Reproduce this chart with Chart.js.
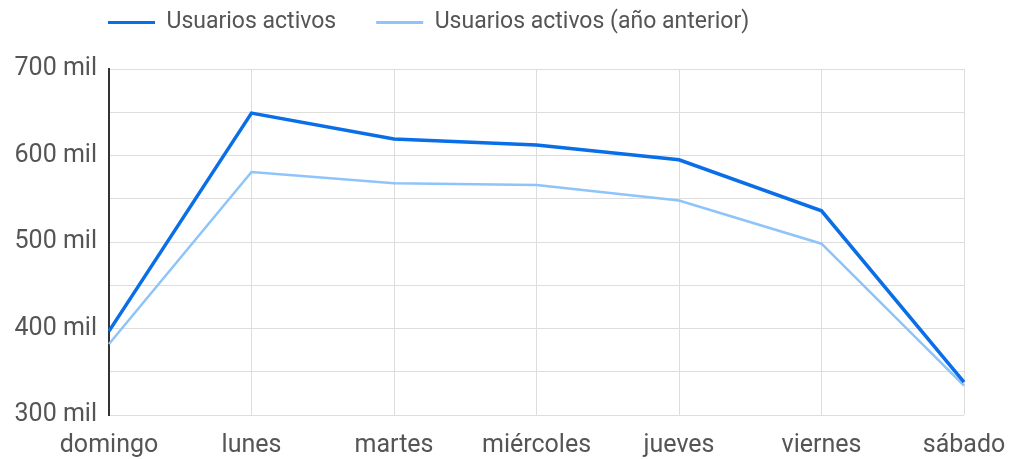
<!DOCTYPE html>
<html>
<head>
<meta charset="utf-8">
<script src="https://cdn.jsdelivr.net/npm/chart.js@4.4.1/dist/chart.umd.min.js"></script>
<style>
  html, body { margin: 0; padding: 0; background: #ffffff; }
  #wrap { width: 1010px; height: 459px; position: relative; }
</style>
</head>
<body>
<div id="wrap"><canvas id="c" width="1010" height="459"></canvas></div>
<script>
const categories = ['domingo', 'lunes', 'martes', 'miércoles', 'jueves', 'viernes', 'sábado'];
const seriesNames = ['Usuarios activos', 'Usuarios activos (año anterior)'];
const activeUsers = [397000, 649000, 619000, 612000, 595000, 536000, 338000];
const activeUsersPrevYear = [382000, 581000, 568000, 566000, 548000, 498000, 334000];
const yTickValues = [300000, 400000, 500000, 600000, 700000];

const darkBlue = '#0a6ee6';
const lightBlue = '#8ec4fa';
const textGray = '#555555';

const legendPlacer = {
  id: 'legendPlacer',
  afterInit(chart) {
    const lg = chart.legend;
    if (lg) {
      const origFit = lg.fit.bind(lg);
      lg.fit = function () { origFit(); this.height = 69; };
    }
  },
  afterUpdate(chart) {
    const lg = chart.legend;
    if (lg) {
      lg.left = 68;
      lg.top = -29;
      lg.adjustHitBoxes();
    }
  }
};

new Chart(document.getElementById('c'), {
  type: 'line',
  data: {
    labels: categories,
    datasets: [
      {
        label: seriesNames[0],
        data: activeUsers,
        borderColor: darkBlue,
        backgroundColor: darkBlue,
        borderWidth: 3.5,
        pointRadius: 0,
        tension: 0,
        fill: false
      },
      {
        label: seriesNames[1],
        data: activeUsersPrevYear,
        borderColor: lightBlue,
        backgroundColor: lightBlue,
        borderWidth: 2.5,
        pointRadius: 0,
        tension: 0,
        fill: false
      }
    ]
  },
  plugins: [legendPlacer],
  options: {
    responsive: false,
    animation: false,
    devicePixelRatio: 1,
    layout: { padding: { left: 0, right: 46, top: 0, bottom: 0 } },
    plugins: {
      tooltip: { enabled: false },
      legend: {
        display: true,
        position: 'top',
        align: 'start',
        labels: {
          boxWidth: 47,
          boxHeight: 3,
          padding: 40,
          color: textGray,
          font: { family: 'Roboto', size: 23 },
          generateLabels(chart) {
            const items = Chart.defaults.plugins.legend.labels.generateLabels(chart);
            items.forEach(function (it) { it.lineWidth = 0; });
            return items;
          }
        }
      }
    },
    scales: {
      x: {
        offset: false,
        grid: { color: '#dddddd', lineWidth: 1, drawTicks: false },
        border: { display: false },
        ticks: {
          color: textGray,
          padding: 16,
          maxRotation: 0,
          autoSkip: false,
          font: { family: 'Roboto', size: 25 }
        },
        afterFit(scale) {
          scale.height = 44;
          scale.paddingLeft = 0;
          scale.paddingRight = 0;
        }
      },
      y: {
        min: 300000,
        max: 700000,
        grid: { color: '#dddddd', lineWidth: 1, drawTicks: false },
        border: { display: true, color: '#333333', width: 2 },
        ticks: {
          stepSize: 50000,
          color: textGray,
          padding: 12,
          font: { family: 'Roboto', size: 25 },
          callback(value) {
            return yTickValues.includes(value) ? (value / 1000) + ' mil' : '';
          }
        },
        afterFit(scale) {
          scale.width = 109;
          scale.paddingTop = 0;
          scale.paddingBottom = 0;
        }
      }
    }
  }
});
</script>
</body>
</html>
